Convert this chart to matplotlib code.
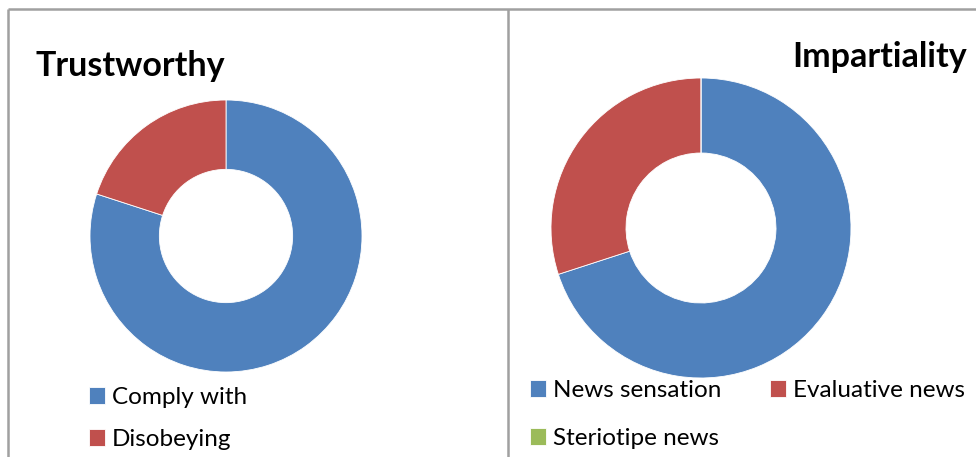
import matplotlib
matplotlib.use("Agg")
import matplotlib.pyplot as plt

W, H = 976, 457

# chart data
trust_labels = ["Comply with", "Disobeying"]
trust_values = [80, 20]
impart_labels = ["News sensation", "Evaluative news", "Steriotipe news"]
impart_values = [70, 30, 0]

colors = ["#4F81BD", "#C0504D", "#9BBB59"]

plt.rcParams["font.family"] = ["Lato", "DejaVu Sans"]

fig = plt.figure(figsize=(W / 100, H / 100), dpi=100)
ax = fig.add_axes([0, 0, 1, 1])


def py(y):
    # pixel row -> data y
    return H - y


# panel borders
border = dict(color="#A0A0A0", lw=1.8, solid_capstyle="butt")
ax.plot([8, 8], [py(9), py(H)], **border)
ax.plot([8, W], [py(9), py(9)], **border)
ax.plot([508, 508], [py(9), py(H)], **border)

# left donut
w1, _ = ax.pie(trust_values, colors=colors[:2], startangle=90, counterclock=False,
               center=(226, py(236)), radius=136, frame=True,
               wedgeprops=dict(width=136 * 0.51, edgecolor="white", linewidth=0.6))
# right donut
w2, _ = ax.pie(impart_values, colors=colors, startangle=90, counterclock=False,
               center=(701, py(228)), radius=150, frame=True,
               wedgeprops=dict(width=150 * 0.5, edgecolor="white", linewidth=0.6))
ax.set_xlim(0, W)
ax.set_ylim(0, H)
ax.set_aspect("equal")
ax.axis("off")

ax.text(36, py(76), "Trustworthy", fontsize=24.5, fontweight="bold", ha="left", va="baseline")
ax.text(967, py(67), "Impartiality", fontsize=24.5, fontweight="bold", ha="right", va="baseline")

leg_kw = dict(frameon=False, fontsize=17.5, handlelength=0.66, handleheight=0.66,
              handletextpad=0.28, borderaxespad=0, borderpad=0)
leg1 = ax.legend(w1, trust_labels, loc="upper left", bbox_to_anchor=(89 / W, 1 - 387 / H),
                 bbox_transform=fig.transFigure, labelspacing=0.86, **leg_kw)
ax.add_artist(leg1)

# legend fills column-wise, so reorder to read row by row
order = [0, 2, 1]
ax.legend([w2[i] for i in order], [impart_labels[i] for i in order], loc="upper left",
          bbox_to_anchor=(530 / W, 1 - 380 / H), bbox_transform=fig.transFigure,
          ncol=2, columnspacing=2.0, labelspacing=1.11, **leg_kw)

fig.savefig("out.png", dpi=100)
